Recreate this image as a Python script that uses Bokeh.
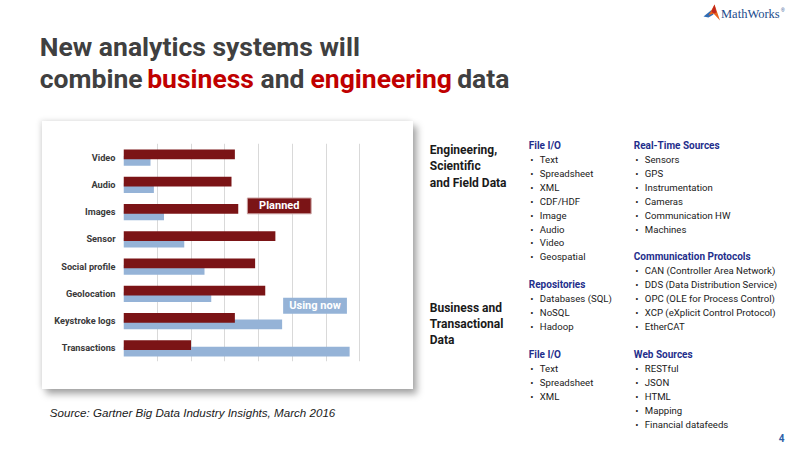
from bokeh.plotting import figure
from bokeh.models import Range1d, FactorRange, FixedTicker, ColumnDataSource, Spacer
from bokeh.layouts import column, row
from bokeh.transform import dodge
from bokeh.core.properties import value
from bokeh.embed import file_html
from bokeh.resources import INLINE

# ---------------- data ----------------
categories = ["Video", "Audio", "Images", "Sensor", "Social profile",
              "Geolocation", "Keystroke logs", "Transactions"]
planned = [33, 32, 34, 45, 39, 42, 33, 20]
using_now = [8, 9, 12, 18, 24, 26, 47, 67]
grid_ticks = [0, 10, 20, 30, 40, 50, 60, 70, 80]

title_line1 = "New analytics systems will"
title_line2 = [("combine", "#404040"), ("business", "#C00000"), ("and", "#404040"),
               ("engineering", "#C00000"), ("data", "#404040")]
source_text = "Source:  Gartner Big Data Industry Insights, March 2016"

eng_label = ["Engineering,", "Scientific", "and Field Data"]
biz_label = ["Business and", "Transactional", "Data"]

eng_file_io = ["Text", "Spreadsheet", "XML", "CDF/HDF", "Image", "Audio", "Video", "Geospatial"]
repositories = ["Databases (SQL)", "NoSQL", "Hadoop"]
biz_file_io = ["Text", "Spreadsheet", "XML"]
realtime = ["Sensors", "GPS", "Instrumentation", "Cameras", "Communication HW", "Machines"]
protocols = ["CAN (Controller Area Network)", "DDS (Data Distribution Service)",
             "OPC (OLE for Process Control)", "XCP (eXplicit Control Protocol)", "EtherCAT"]
web_sources = ["RESTful", "JSON", "HTML", "Mapping", "Financial datafeeds"]

NARROW = "Roboto"
SANS = "Liberation Sans"
PLANNED_C = "#7B1416"
USING_C = "#95B3D7"
HEAD_C = "#1F2F8C"
TXT_C = "#1A1A1A"


def page_fig(x0, x1, y0, y1):
    f = figure(width=x1 - x0, height=y1 - y0, x_range=Range1d(x0, x1), y_range=Range1d(y1, y0),
               output_backend="svg", toolbar_location=None, min_border=0,
               x_axis_location=None, y_axis_location=None,
               background_fill_color=None, border_fill_color=None, outline_line_color=None)
    f.grid.visible = False
    return f


def txt(f, x, y, s, size, color, font=NARROW, style="normal", align="left", baseline="middle"):
    f.text(x=[x], y=[y], text=[s], text_font=value(font), text_font_size=f"{size}px",
           text_color=color, text_font_style=style, text_align=align, text_baseline=baseline)


# ---------------- title area ----------------
top = page_fig(0, 800, 0, 121)
txt(top, 39.3, 46.0, title_line1, 26.5, "#404040", style="bold")
for (word, col), xs in zip(title_line2, [39.3, 146.7, 260.0, 310.0, 456.7]):
    txt(top, xs, 77.5, word, 26.5, col, style="bold")
# logo
top.patch(x=[703, 711, 713, 708], y=[16, 9.5, 14, 17], color="#2F6DB5", line_color=None)
top.patch(x=[708, 714, 719.5, 713], y=[15, 4, 20, 13], color="#E8621D", line_color=None)
top.patch(x=[711, 714, 716, 713], y=[11, 4, 12, 13], color="#C0271E", line_color=None)
txt(top, 720.5, 13.5, "MathWorks", 12.5, "#1B4B8C", font="Liberation Serif")
txt(top, 780.5, 9, "®", 5, "#1B4B8C", font=SANS)

# ---------------- chart ----------------
src = ColumnDataSource(dict(cat=categories, planned=planned, using=using_now))
chart = figure(width=371, height=268, y_range=FactorRange(factors=list(reversed(categories))),
               x_range=Range1d(0, 80), output_backend="svg", toolbar_location=None,
               min_border_left=81, min_border_right=20, min_border_top=22, min_border_bottom=28,
               background_fill_color="white", border_fill_color="white", outline_line_color=None)
chart.styles = {"box-shadow": "4px 5px 7px rgba(0,0,0,0.35), -2px -1px 5px rgba(0,0,0,0.10)",
                "position": "relative", "z-index": "5"}
chart.xaxis.visible = False
chart.xgrid.ticker = FixedTicker(ticks=grid_ticks)
chart.xgrid.grid_line_color = "#D9D9D9"
chart.ygrid.grid_line_color = None
chart.yaxis.axis_line_color = None
chart.yaxis.major_tick_line_color = None
chart.yaxis.minor_tick_line_color = None
chart.yaxis.major_tick_out = 0
chart.yaxis.major_tick_in = 0
chart.yaxis.major_label_standoff = 8
chart.yaxis.major_label_text_font = NARROW
chart.yaxis.major_label_text_font_style = "bold"
chart.yaxis.major_label_text_font_size = "9.2px"
chart.yaxis.major_label_text_color = "#3A3A3A"

chart.hbar(y=dodge("cat", -0.14, range=chart.y_range), left=0, right="using", height=0.36,
           source=src, color=USING_C, line_color=None)
chart.hbar(y=dodge("cat", 0.10, range=chart.y_range), left=0, right="planned", height=0.36,
           source=src, color=PLANNED_C, line_color=None)

# legend boxes
chart.quad(left=[36.7], right=[55.6], bottom=[5.42], top=[6.0], color=PLANNED_C,
           line_color="#C9A0A0", line_width=1)
chart.text(x=[46.15], y=[5.71], text=["Planned"], text_font=value(NARROW), text_font_size="11px",
           text_font_style="bold", text_color="white", text_align="center", text_baseline="middle")
chart.quad(left=[47.3], right=[66.2], bottom=[1.75], top=[2.34], color=USING_C, line_color=None)
chart.text(x=[56.75], y=[2.045], text=["Using now"], text_font=value(NARROW), text_font_size="11px",
           text_font_style="bold", text_color="white", text_align="center", text_baseline="middle")

# ---------------- source ----------------
srcfig = page_fig(0, 413, 389, 450)
txt(srcfig, 49.3, 412.3, source_text, 11.6, TXT_C, font=SANS, style="italic")

# ---------------- right text ----------------
right = page_fig(413, 800, 121, 450)
for i, s in enumerate(eng_label):
    txt(right, 429.3, 149.5 + 16.4 * i, s, 12, TXT_C, style="bold")
for i, s in enumerate(biz_label):
    txt(right, 429.3, 307.5 + 16.0 * i, s, 12, TXT_C, style="bold")


def rowy(r):
    return 144.7 + 13.97 * r


def draw_list(header, items, r0, xh):
    txt(right, xh, rowy(r0), header, 10, HEAD_C, style="bold")
    for i, s in enumerate(items):
        y = rowy(r0 + 1 + i)
        txt(right, xh + 1.5, y, "•", 9.6, TXT_C)
        txt(right, xh + 11, y, s, 9.6, TXT_C)


draw_list("File I/O", eng_file_io, 0, 528.3)
draw_list("Repositories", repositories, 10, 528.3)
draw_list("File I/O", biz_file_io, 15, 528.3)
draw_list("Real-Time Sources", realtime, 0, 633.3)
draw_list("Communication Protocols", protocols, 8, 633.3)
draw_list("Web Sources", web_sources, 15, 633.3)

txt(right, 781, 437.5, "4", 10, "#2E5FA8", style="bold", align="center")

left_col = column(row(Spacer(width=42, height=268), chart), srcfig)
layout = column(top, row(left_col, right))

open("out.html", "w").write(file_html(layout, INLINE))
